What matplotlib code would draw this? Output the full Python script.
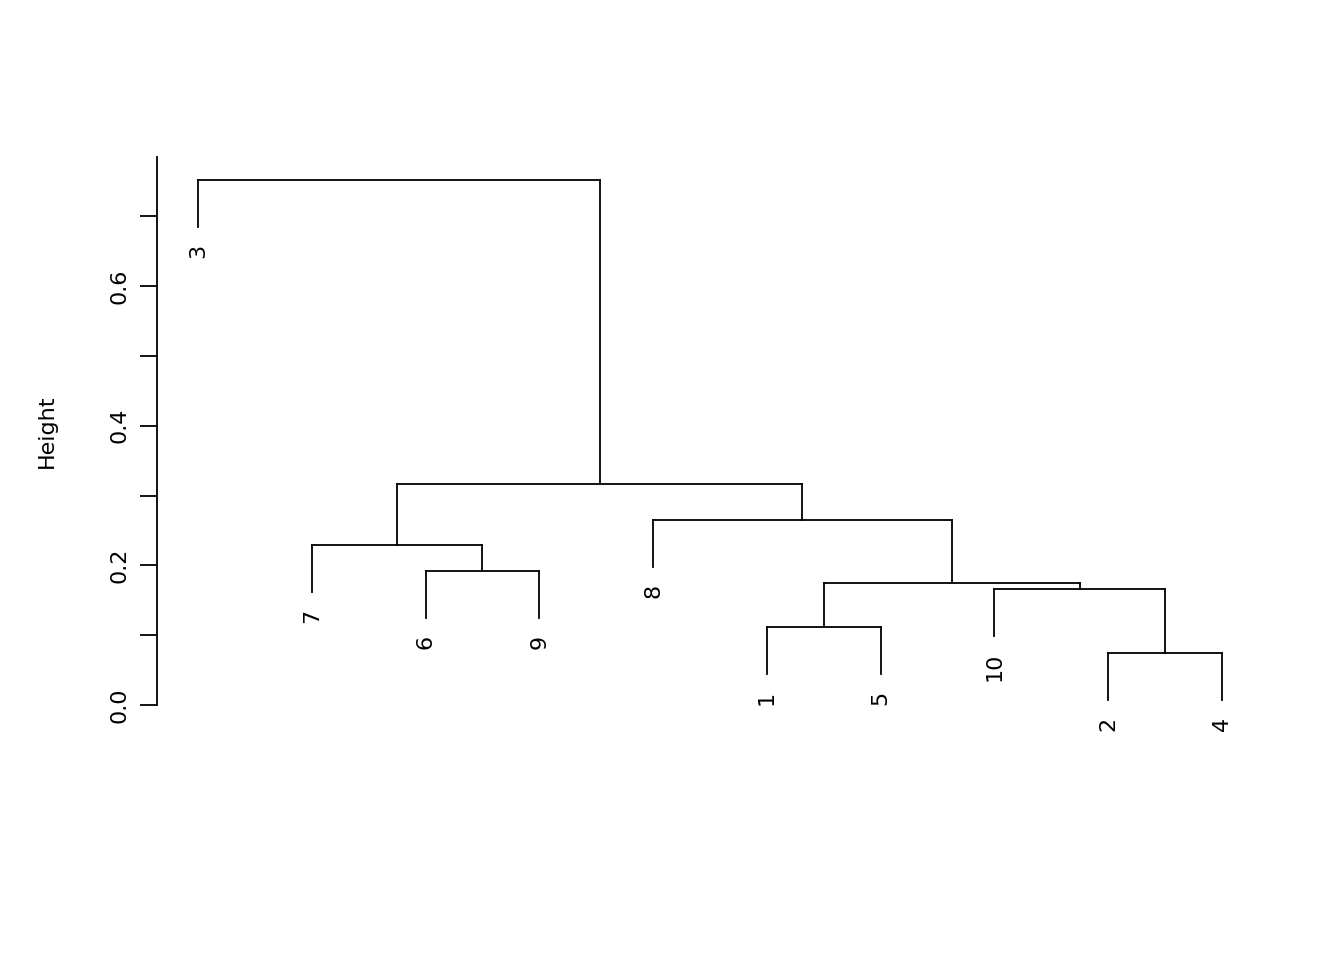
import matplotlib
matplotlib.use("Agg")
import matplotlib.pyplot as plt

leaf_order = [3, 7, 6, 9, 8, 1, 5, 10, 2, 4]
merge_a = [-2, -1, -10, 2, -6, -7, -8, 6, -3]
merge_b = [-4, -5, 1, 3, -9, 5, 4, 7, 8]
heights = [0.0745, 0.112, 0.166, 0.175, 0.192, 0.229, 0.265, 0.3165, 0.752]
hang = 0.1 * (max(heights) - min(heights))

fig = plt.figure(figsize=(13.44, 9.6), dpi=100)
ax = fig.add_axes([157 / 1344, 255 / 960, 1107 / 1344, 548 / 960])

pos = {lab: i + 1 for i, lab in enumerate(leaf_order)}
node = {}  # merge index -> (x, height)


def get(ref, h):
    if ref < 0:
        x = pos[-ref]
        y0 = h - hang
        ax.plot([x, x], [y0, h], color="black", lw=1.3, clip_on=False)
        ax.annotate(str(-ref), (x, y0), xytext=(0, -12), textcoords="offset points",
                    rotation=90, ha="center", va="top", fontsize=16)
        return x
    x, y0 = node[ref]
    ax.plot([x, x], [y0, h], color="black", lw=1.3, clip_on=False)
    return x


for k, (a, b, h) in enumerate(zip(merge_a, merge_b, heights), start=1):
    xa = get(a, h)
    xb = get(b, h)
    ax.plot([xa, xb], [h, h], color="black", lw=1.3, clip_on=False)
    node[k] = ((xa + xb) / 2, h)

ax.set_xlim(1 - 41 / 113.8, 10 + 42 / 113.8)
ax.set_ylim(0, 0.785)
for s in ["top", "right", "bottom"]:
    ax.spines[s].set_visible(False)
ax.spines["left"].set_linewidth(1.3)
ax.set_xticks([])
ax.set_yticks([i / 10 for i in range(8)])
ax.set_yticklabels(["0.0", "", "0.2", "", "0.4", "", "0.6", ""], rotation=90, va="center")
ax.tick_params(axis="y", length=12, width=1.3, labelsize=16, pad=8)
ax.set_ylabel("Height", fontsize=16, labelpad=38)

fig.savefig("out.png", dpi=100)
